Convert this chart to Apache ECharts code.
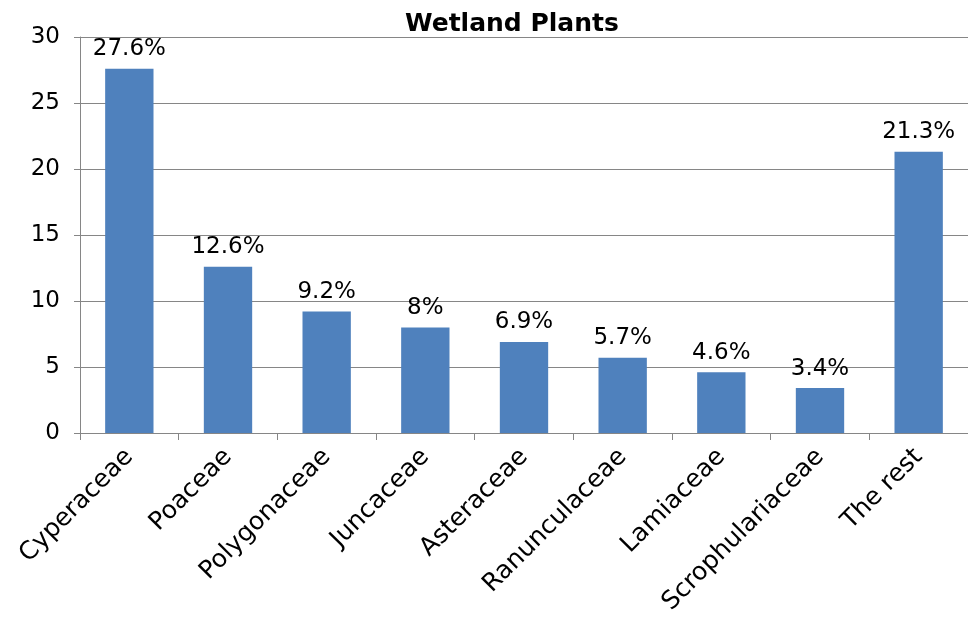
<!DOCTYPE html>
<html><head><meta charset="utf-8">
<script src="https://cdn.jsdelivr.net/npm/echarts@6/dist/echarts.min.js"></script>
<style>html,body{margin:0;padding:0;background:#fff}#c{width:968px;height:626px}</style>
</head><body><div id="c"></div>
<script>
const categories = ["Cyperaceae","Poaceae","Polygonaceae","Juncaceae","Asteraceae","Ranunculaceae","Lamiaceae","Scrophulariaceae","The rest"];
const values = [27.6, 12.6, 9.2, 8, 6.9, 5.7, 4.6, 3.4, 21.3];
const yTicks = [0, 5, 10, 15, 20, 25, 30];
const FONT = "DejaVu Sans";
const chart = echarts.init(document.getElementById('c'));
chart.setOption({
  animation: false,
  title: { text: "Wetland Plants", left: 400, top: 7, textStyle: { fontFamily: FONT, fontWeight: 'bold', fontSize: 25, color: '#000' } },
  grid: { left: 80, right: 0, top: 37, bottom: 193 },
  xAxis: {
    type: 'category', data: categories,
    axisLine: { lineStyle: { color: '#868686' } },
    axisTick: { show: true, alignWithLabel: false, length: 7, lineStyle: { color: '#868686' } },
    axisLabel: { rotate: 45, fontFamily: FONT, fontSize: 25, color: '#000', margin: 20, interval: 0 }
  },
  yAxis: {
    type: 'value', min: yTicks[0], max: yTicks[yTicks.length - 1], interval: 5,
    axisLine: { show: true, lineStyle: { color: '#868686' } },
    axisTick: { show: true, length: 6, lineStyle: { color: '#868686' } },
    splitLine: { lineStyle: { color: '#868686' } },
    axisLabel: { fontFamily: FONT, fontSize: 23, color: '#000', margin: 20 }
  },
  series: [{
    type: 'bar', data: values, barWidth: '49%',
    itemStyle: { color: '#4f81bd' },
    label: { show: true, position: 'top', distance: 8, fontFamily: FONT, fontSize: 23, color: '#000', formatter: p => p.value + '%' }
  }]
});
</script></body></html>
